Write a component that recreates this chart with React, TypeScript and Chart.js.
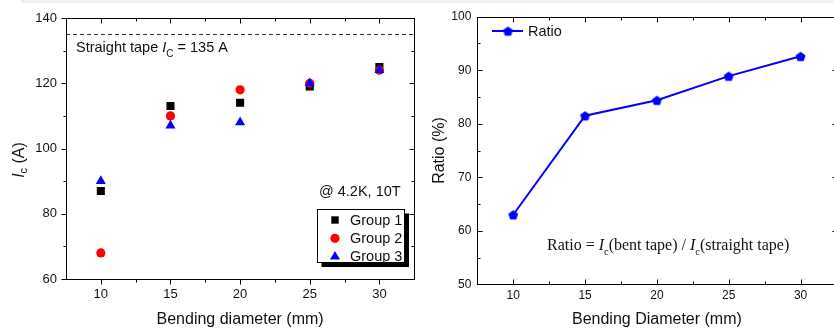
import React, { useEffect, useRef } from "react";
import { Chart, registerables } from "chart.js";
Chart.register(...registerables);

// ---------- data ----------
const diameters = [10, 15, 20, 25, 30];
const group1 = [87, 113, 114, 119, 125];
const group2 = [68, 110, 118, 120, 124];
const group3 = [90, 107, 108, 120, 124];
const ratio = [63.0, 81.5, 84.4, 88.9, 92.6];
const straightIc = 135;

const xMajorTicks = [10, 15, 20, 25, 30];
const xMinorTicks = [12.5, 17.5, 22.5, 27.5];
const icMajorTicks = [60, 80, 100, 120, 140];
const icMinorTicks = [70, 90, 110, 130];
const ratioMajorTicks = [50, 60, 70, 80, 90, 100];
const ratioMinorTicks = [55, 65, 75, 85, 95];

const groupLabels = ["Group 1", "Group 2", "Group 3"];

const SANS = '"Liberation Sans", Arial, sans-serif';
const SERIF = '"Liberation Serif", "Times New Roman", serif';
const TXT = "#111";

type Seg = { t: string; font: string; dy?: number };
function drawRich(ctx: CanvasRenderingContext2D, segs: Seg[], x: number, y: number, align: "left" | "center") {
  let w = 0;
  const widths = segs.map((s) => {
    ctx.font = s.font;
    const m = ctx.measureText(s.t).width;
    w += m;
    return m;
  });
  let cx = align === "center" ? x - w / 2 : x;
  ctx.textAlign = "left";
  segs.forEach((s, i) => {
    ctx.font = s.font;
    ctx.fillText(s.t, cx, y + (s.dy || 0));
    cx += widths[i];
  });
}

function drawFrame(chart: any, xMaj: number[], xMin: number[], yMaj: number[], yMin: number[], outward: boolean) {
  const { ctx, chartArea: a } = chart;
  const xs = chart.scales.x;
  const ys = chart.scales.y;
  const L = Math.round(a.left) + 0.5;
  const R = Math.round(a.right) + 0.5;
  const T = Math.round(a.top) + 0.5;
  const B = Math.round(a.bottom) + 0.5;
  ctx.save();
  ctx.strokeStyle = "#000";
  ctx.lineWidth = 1;
  ctx.setLineDash([]);
  ctx.strokeRect(L, T, R - L, B - T);
  ctx.beginPath();
  const o = outward ? 1 : -1;
  const xTick = (v: number, len: number) => {
    const p = Math.round(xs.getPixelForValue(v)) + 0.5;
    ctx.moveTo(p, B);
    ctx.lineTo(p, B + o * len);
    ctx.moveTo(p, T);
    ctx.lineTo(p, T + len);
  };
  const yTick = (v: number, len: number) => {
    const p = Math.round(ys.getPixelForValue(v)) + 0.5;
    ctx.moveTo(L, p);
    ctx.lineTo(L - o * len, p);
    ctx.moveTo(R, p);
    ctx.lineTo(R - len, p);
  };
  xMaj.forEach((v) => xTick(v, 5));
  xMin.forEach((v) => xTick(v, 3));
  yMaj.forEach((v) => yTick(v, 5));
  yMin.forEach((v) => yTick(v, 3));
  ctx.stroke();
  ctx.restore();
}

function makePentagon(r: number, color: string) {
  const c = document.createElement("canvas");
  const s = Math.ceil(r * 2 + 2);
  c.width = s;
  c.height = s;
  const g = c.getContext("2d")!;
  g.beginPath();
  for (let i = 0; i < 5; i++) {
    const ang = -Math.PI / 2 + (i * 2 * Math.PI) / 5;
    const px = s / 2 + r * Math.cos(ang);
    const py = s / 2 + 0.6 + r * Math.sin(ang);
    if (i) g.lineTo(px, py);
    else g.moveTo(px, py);
  }
  g.closePath();
  g.fillStyle = color;
  g.fill();
  return c;
}

function pts(ys: number[]) {
  return diameters.map((x, i) => ({ x, y: ys[i] }));
}

const fixTicks = (vals: number[]) => (s: any) => {
  s.ticks = vals.map((v) => ({ value: v }));
};

export default function App() {
  const leftRef = useRef<HTMLCanvasElement>(null);
  const rightRef = useRef<HTMLCanvasElement>(null);

  useEffect(() => {
    const groupStyles = [
      { style: "rect", r: 5.7, color: "#000000" },
      { style: "circle", r: 4.6, color: "#ff0000" },
      { style: "triangle", r: 5.8, color: "#0000ff" },
    ];
    const groupData = [group1, group2, group3];

    const leftDecor = {
      id: "leftDecor",
      beforeDatasetsDraw(chart: any) {
        const { ctx, chartArea: a } = chart;
        const y = Math.round(chart.scales.y.getPixelForValue(straightIc)) + 0.5;
        ctx.save();
        ctx.strokeStyle = "#333";
        ctx.lineWidth = 1;
        ctx.setLineDash([4, 3]);
        ctx.beginPath();
        ctx.moveTo(a.left, y);
        ctx.lineTo(a.right, y);
        ctx.stroke();
        ctx.restore();
      },
      afterDraw(chart: any) {
        const { ctx } = chart;
        ctx.save();
        ctx.fillStyle = TXT;
        ctx.textBaseline = "alphabetic";
        const f = `14.5px ${SANS}`;
        drawRich(
          ctx,
          [
            { t: "Straight tape ", font: f },
            { t: "I", font: `italic 14.5px ${SANS}` },
            { t: "C", font: `10px ${SANS}`, dy: 5 },
            { t: " = 135 A", font: f },
          ],
          76,
          51.5,
          "left"
        );
        drawRich(ctx, [{ t: "@ 4.2K, 10T", font: f }], 319, 195.5, "left");

        // y title
        ctx.save();
        ctx.translate(20, 160);
        ctx.rotate(-Math.PI / 2);
        ctx.textBaseline = "middle";
        drawRich(
          ctx,
          [
            { t: "I", font: `italic 16px ${SANS}` },
            { t: "c", font: `11px ${SANS}`, dy: 4 },
            { t: " (A)", font: `16px ${SANS}` },
          ],
          0,
          0,
          "center"
        );
        ctx.restore();

        // legend box
        const bx = 317.5, by = 209.5, bw = 87, bh = 53;
        ctx.fillStyle = "#000";
        ctx.fillRect(bx + 4, by + 4, bw + 0.5, bh + 0.5);
        ctx.fillStyle = "#fff";
        ctx.fillRect(bx, by, bw, bh);
        ctx.strokeStyle = "#000";
        ctx.lineWidth = 1;
        ctx.strokeRect(bx, by, bw, bh);
        const rows = [220, 238.3, 256.7];
        groupLabels.forEach((lab, i) => {
          const st = groupStyles[i];
          const cx = 335, cy = rows[i];
          ctx.fillStyle = st.color;
          ctx.beginPath();
          if (st.style === "rect") {
            ctx.rect(cx - 3.7, cy - 3.7, 7.4, 7.4);
          } else if (st.style === "circle") {
            ctx.arc(cx, cy, 4.6, 0, Math.PI * 2);
          } else {
            const r = 5.8;
            ctx.moveTo(cx, cy - r);
            ctx.lineTo(cx + r * Math.sin((2 * Math.PI) / 3), cy - r * Math.cos((2 * Math.PI) / 3));
            ctx.lineTo(cx + r * Math.sin((4 * Math.PI) / 3), cy - r * Math.cos((4 * Math.PI) / 3));
            ctx.closePath();
          }
          ctx.fill();
          ctx.fillStyle = TXT;
          ctx.textBaseline = "middle";
          drawRich(ctx, [{ t: lab, font: f }], 350, cy + 0.5, "left");
        });
        ctx.restore();
        drawFrame(chart, xMajorTicks, xMinorTicks, icMajorTicks, icMinorTicks, true);
      },
    };

    const left = new Chart(leftRef.current!, {
      type: "scatter",
      data: {
        datasets: groupData.map((d, i) => ({
          label: groupLabels[i],
          data: pts(d),
          pointStyle: groupStyles[i].style as any,
          pointRadius: groupStyles[i].r,
          pointHoverRadius: groupStyles[i].r,
          backgroundColor: groupStyles[i].color,
          borderColor: groupStyles[i].color,
          borderWidth: 0,
          order: 2 - i,
        })),
      },
      options: {
        responsive: false,
        animation: false,
        events: [],
        layout: { padding: { left: 0, top: 18, right: 3, bottom: 0 } },
        plugins: { legend: { display: false }, tooltip: { enabled: false } },
        scales: {
          x: {
            type: "linear",
            min: 7.5,
            max: 32.5,
            afterBuildTicks: fixTicks(xMajorTicks),
            afterFit: (s: any) => {
              s.height = 50;
            },
            grid: { display: false, drawTicks: false },
            border: { display: false },
            ticks: { font: { size: 13, family: SANS }, color: TXT, padding: 8 },
            title: {
              display: true,
              text: "Bending diameter (mm)",
              font: { size: 16, family: SANS },
              color: TXT,
              padding: { top: 0, bottom: 0 },
            },
          },
          y: {
            type: "linear",
            min: 60,
            max: 140,
            afterBuildTicks: fixTicks(icMajorTicks),
            afterFit: (s: any) => {
              s.width = 66;
            },
            grid: { display: false, drawTicks: false },
            border: { display: false },
            ticks: { font: { size: 13, family: SANS }, color: TXT, padding: 9 },
          },
        },
      },
      plugins: [leftDecor],
    });

    const pent = makePentagon(5.2, "#0000ff");
    const rightDecor = {
      id: "rightDecor",
      afterDraw(chart: any) {
        const { ctx } = chart;
        ctx.save();
        // legend
        ctx.strokeStyle = "#0000ff";
        ctx.lineWidth = 2;
        ctx.beginPath();
        ctx.moveTo(72, 31);
        ctx.lineTo(103, 31);
        ctx.stroke();
        ctx.drawImage(pent, 88 - pent.width / 2, 31 - pent.height / 2);
        ctx.fillStyle = TXT;
        ctx.textBaseline = "middle";
        drawRich(ctx, [{ t: "Ratio", font: `14.5px ${SANS}` }], 108, 31.5, "left");
        // annotation
        ctx.textBaseline = "alphabetic";
        const f = `16px ${SERIF}`;
        const fi = `italic 16px ${SERIF}`;
        const fs = `10.5px ${SERIF}`;
        drawRich(
          ctx,
          [
            { t: "Ratio = ", font: f },
            { t: "I", font: fi },
            { t: "c", font: fs, dy: 4.5 },
            { t: "(bent tape) / ", font: f },
            { t: "I", font: fi },
            { t: "c", font: fs, dy: 4.5 },
            { t: "(straight tape)", font: f },
          ],
          127,
          250,
          "left"
        );
        ctx.restore();
        drawFrame(chart, xMajorTicks, xMinorTicks, ratioMajorTicks, ratioMinorTicks, false);
      },
    };

    const right = new Chart(rightRef.current!, {
      type: "scatter",
      data: {
        datasets: [
          {
            label: "Ratio",
            data: pts(ratio),
            showLine: true,
            borderColor: "#0000ff",
            backgroundColor: "#0000ff",
            borderWidth: 2,
            pointStyle: pent as any,
            pointRadius: 5,
          },
        ],
      },
      options: {
        responsive: false,
        animation: false,
        events: [],
        layout: { padding: { left: 0, top: 16.7, right: 17.5, bottom: 0 } },
        plugins: { legend: { display: false }, tooltip: { enabled: false } },
        scales: {
          x: {
            type: "linear",
            min: 7.5,
            max: 32.5,
            afterBuildTicks: fixTicks(xMajorTicks),
            afterFit: (s: any) => {
              s.height = 44.7;
            },
            grid: { display: false, drawTicks: false },
            border: { display: false },
            ticks: { font: { size: 12, family: SANS }, color: TXT, padding: 4 },
            title: {
              display: true,
              text: "Bending Diameter (mm)",
              font: { size: 16, family: SANS },
              color: TXT,
              padding: { top: 0, bottom: 0 },
            },
          },
          y: {
            type: "linear",
            min: 50,
            max: 100,
            afterBuildTicks: fixTicks(ratioMajorTicks),
            afterFit: (s: any) => {
              s.width = 57.3;
            },
            grid: { display: false, drawTicks: false },
            border: { display: false },
            ticks: { font: { size: 12, family: SANS }, color: TXT, padding: 6 },
            title: {
              display: true,
              text: "Ratio (%)",
              font: { size: 16, family: SANS },
              color: TXT,
              padding: { top: 10, bottom: 0 },
            },
          },
        },
      },
      plugins: [rightDecor],
    });

    return () => {
      left.destroy();
      right.destroy();
    };
  }, []);

  return (
    <div
      style={{
        position: "fixed",
        left: 0,
        top: 0,
        width: 834,
        height: 329,
        overflow: "hidden",
        background: "#fff",
      }}
    >
      <div style={{ position: "absolute", left: 21, top: 0, width: 813, height: 3, background: "#f0f0f0" }} />
      <canvas ref={leftRef} width={420} height={329} style={{ position: "absolute", left: 0, top: 0 }} />
      <canvas ref={rightRef} width={434} height={329} style={{ position: "absolute", left: 420, top: 0 }} />
    </div>
  );
}
